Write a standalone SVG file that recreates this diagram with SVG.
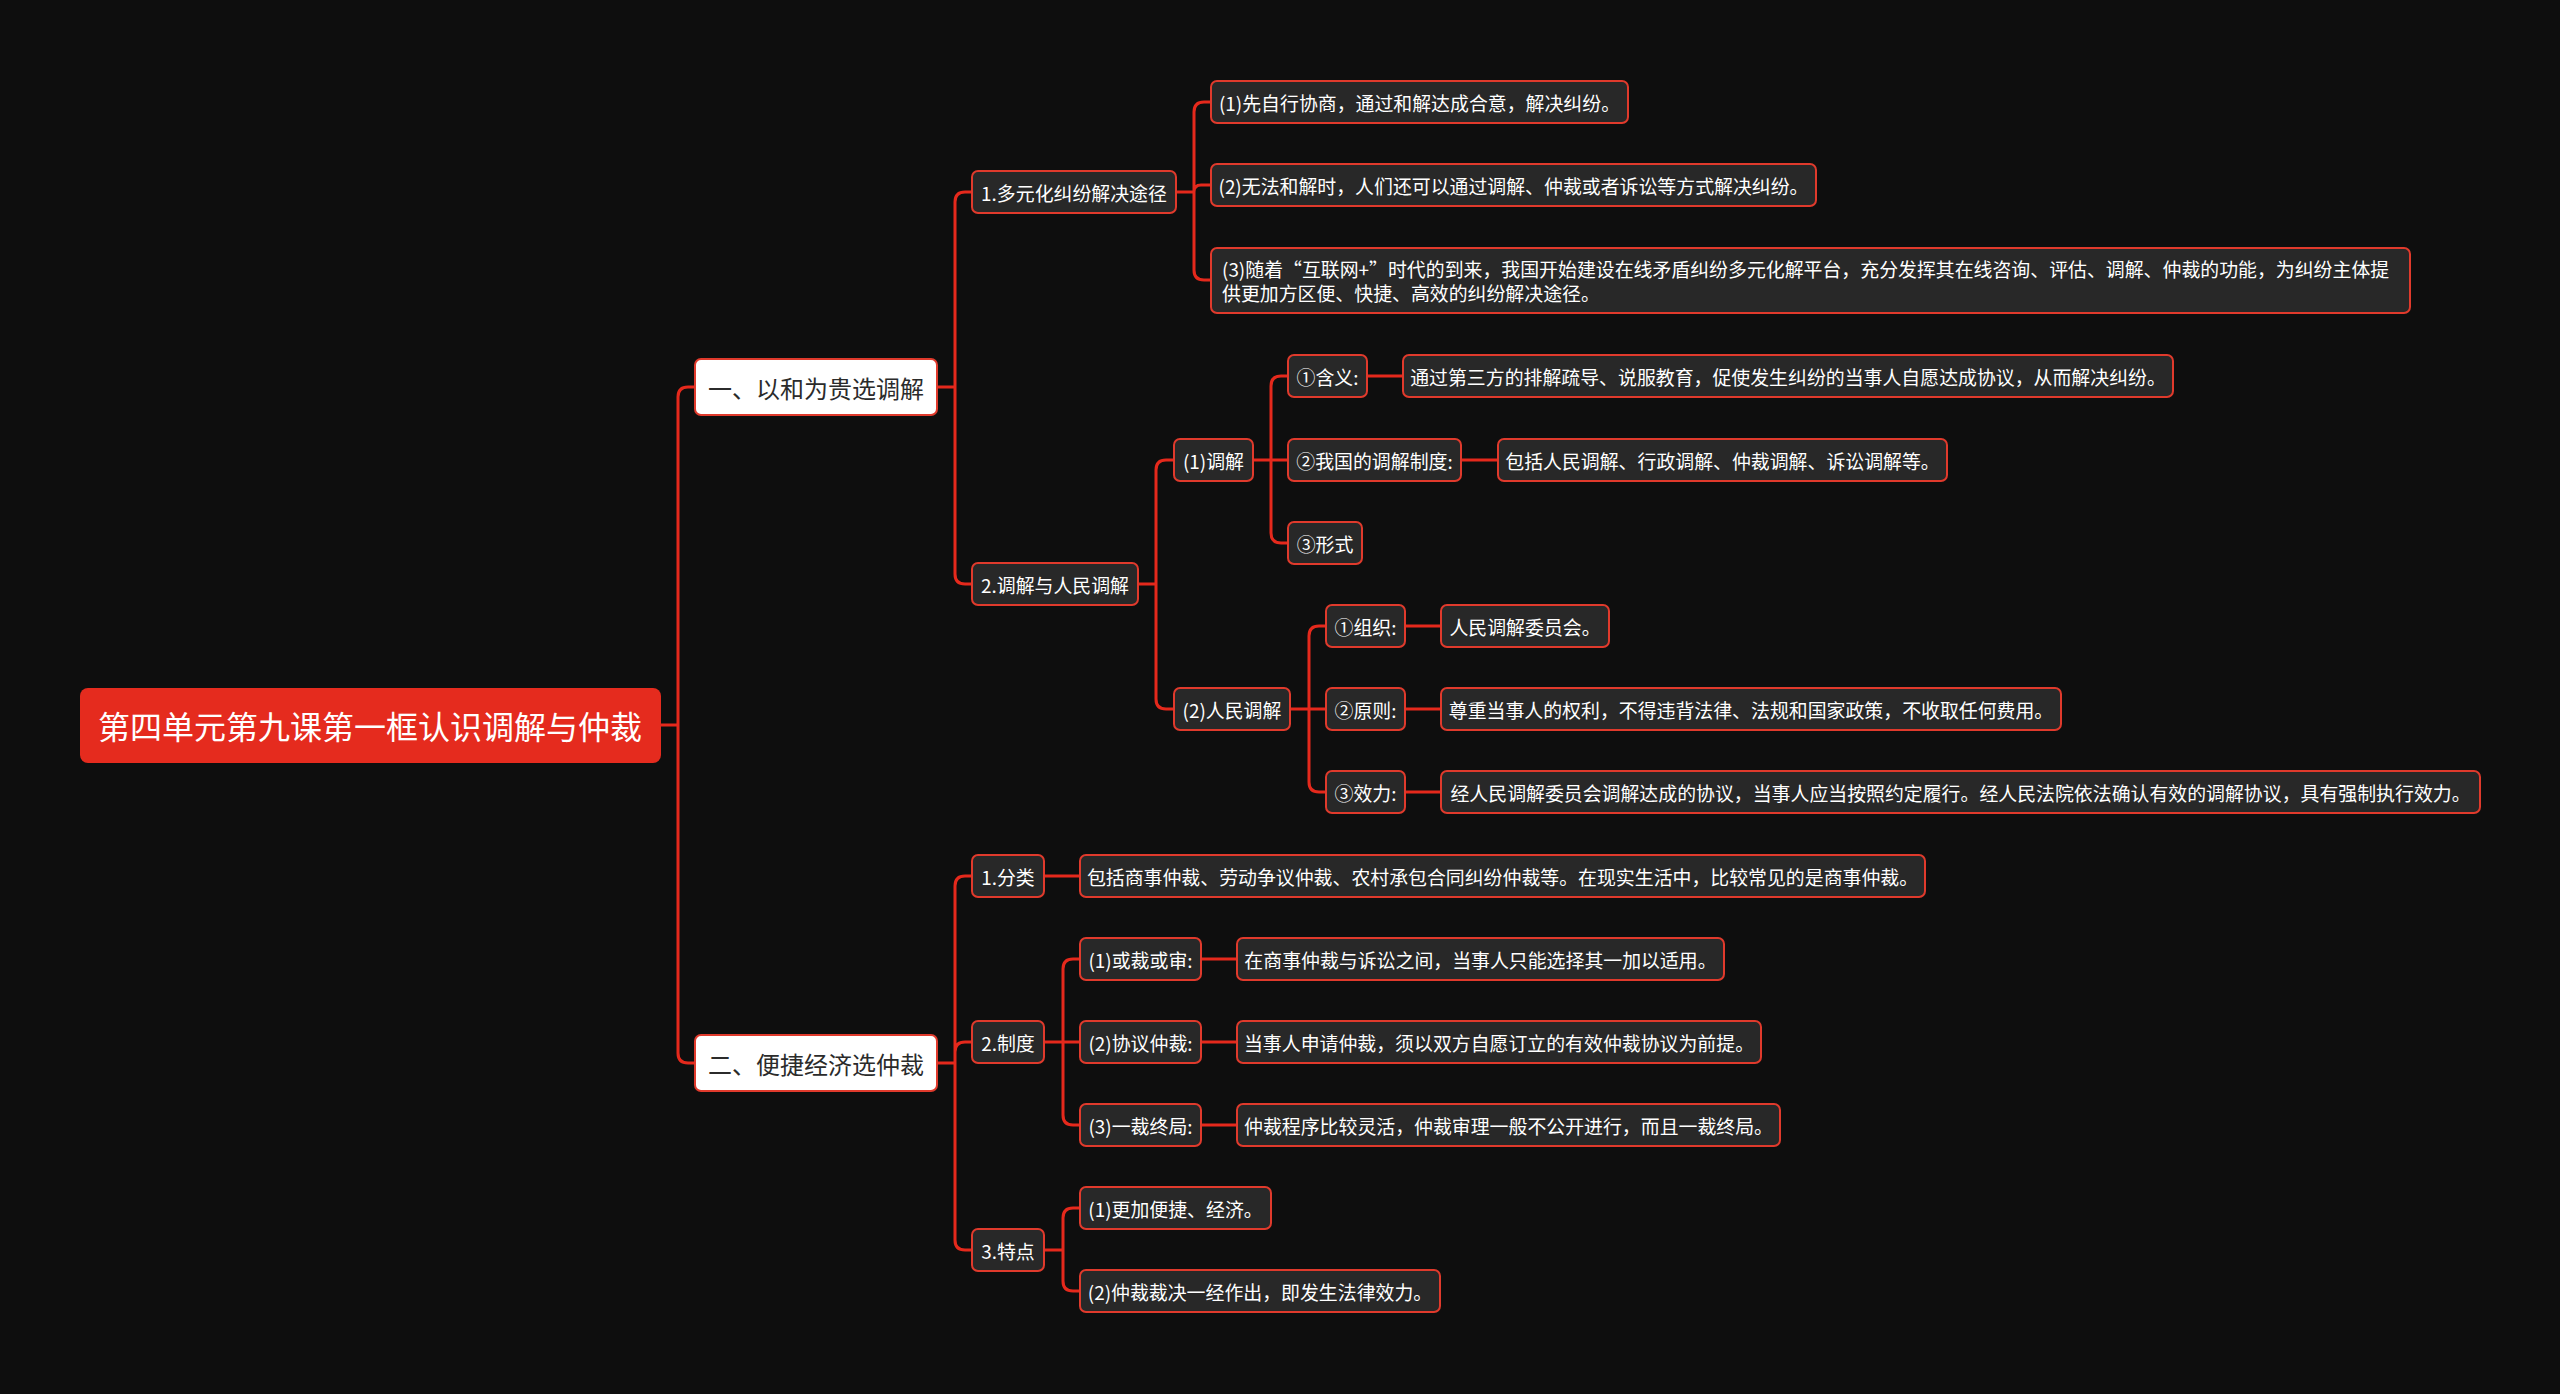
<svg xmlns="http://www.w3.org/2000/svg" width="2560" height="1394" viewBox="0 0 2560 1394">
<style>
text{font-family:"Noto Sans CJK SC","Noto Sans",sans-serif;dominant-baseline:central;text-anchor:middle}
.n rect{fill:#282828;stroke:#e03a2c;stroke-width:2}
.n text{fill:#ffffff;font-size:18.9px}
.l1 rect{fill:#ffffff;stroke:#e03a2c;stroke-width:2}
.l1 text{fill:#2b2b2b;font-size:24px}
.root rect{fill:#e52b1e}
.root text{fill:#ffffff;font-size:32px}
#connectors path{fill:none;stroke:#e5291c;stroke-width:3}
</style>
<rect width="2560" height="1394" fill="#0e0e0e"/>
<g id="connectors">
<path d="M661,725 H678 M678,725 V397 Q678,387 688,387 H695 M678,725 V1053 Q678,1063 688,1063 H695"/>
<path d="M937,387 H955 M955,387 V202 Q955,192 965,192 H972 M955,387 V574 Q955,584 965,584 H972"/>
<path d="M937,1063 H955 M955,1063 V886 Q955,876 965,876 H972 M955,1063 V1052 Q955,1042 965,1042 H972 M955,1063 V1240 Q955,1250 965,1250 H972"/>
<path d="M1176,192 H1194 M1194,192 V112 Q1194,102 1204,102 H1211 M1194,192 Q1194,185 1201,185 H1211 M1194,192 V270 Q1194,280 1204,280 H1211"/>
<path d="M1138,584 H1156 M1156,584 V470 Q1156,460 1166,460 H1174 M1156,584 V699 Q1156,709 1166,709 H1174"/>
<path d="M1253,460 H1288 M1271,460 V386 Q1271,376 1281,376 H1288 M1271,460 V533 Q1271,543 1281,543 H1288"/>
<path d="M1290,709 H1326 M1309,709 V636 Q1309,626 1319,626 H1326 M1309,709 V782 Q1309,792 1319,792 H1326"/>
<path d="M1044,1042 H1080 M1063,1042 V969 Q1063,959 1073,959 H1080 M1063,1042 V1115 Q1063,1125 1073,1125 H1080"/>
<path d="M1044,1250 H1063 M1063,1250 V1218 Q1063,1208 1073,1208 H1080 M1063,1250 V1281 Q1063,1291 1073,1291 H1080"/>
<path d="M1367,376 H1403 M1461,460 H1498 M1405,626 H1441 M1405,709 H1441 M1405,792 H1441 M1044,876 H1080 M1201,959 H1237 M1201,1042 H1237 M1201,1125 H1237"/>
</g>
<g id="root" class="root"><rect x="80" y="688" width="581" height="75" rx="8"/><text x="370" y="725">第四单元第九课第一框认识调解与仲裁</text></g>
<g id="n1" class="l1"><rect x="695" y="359" width="242" height="56" rx="6"/><text x="816" y="387">一、以和为贵选调解</text></g>
<g id="n2" class="l1"><rect x="695" y="1035" width="242" height="56" rx="6"/><text x="816" y="1063">二、便捷经济选仲裁</text></g>
<g id="a1" class="n"><rect x="972" y="171" width="204" height="42" rx="6"/><text x="1074" y="192">1.多元化纠纷解决途径</text></g>
<g id="a2" class="n"><rect x="972" y="563" width="166" height="42" rx="6"/><text x="1055" y="584">2.调解与人民调解</text></g>
<g id="a1a" class="n"><rect x="1211" y="81" width="417" height="42" rx="6"/><text x="1419.5" y="102">(1)先自行协商，通过和解达成合意，解决纠纷。</text></g>
<g id="a1b" class="n"><rect x="1211" y="164" width="605" height="42" rx="6"/><text x="1513.5" y="185">(2)无法和解时，人们还可以通过调解、仲裁或者诉讼等方式解决纠纷。</text></g>
<g id="a1c" class="n"><rect x="1211" y="248" width="1199" height="65" rx="6"/><text x="1222" y="268" style="text-anchor:start">(3)随着“互联网+”时代的到来，我国开始建设在线矛盾纠纷多元化解平台，充分发挥其在线咨询、评估、调解、仲裁的功能，为纠纷主体提</text><text x="1222" y="292" style="text-anchor:start">供更加方区便、快捷、高效的纠纷解决途径。</text></g>
<g id="a2a" class="n"><rect x="1174" y="439" width="79" height="42" rx="6"/><text x="1213.5" y="460">(1)调解</text></g>
<g id="a2b" class="n"><rect x="1174" y="688" width="116" height="42" rx="6"/><text x="1232" y="709">(2)人民调解</text></g>
<g id="a2a1" class="n"><rect x="1288" y="355" width="79" height="42" rx="6"/><text x="1327.5" y="376">①含义:</text></g>
<g id="a2a1t" class="n"><rect x="1403" y="355" width="770" height="42" rx="6"/><text x="1788" y="376">通过第三方的排解疏导、说服教育，促使发生纠纷的当事人自愿达成协议，从而解决纠纷。</text></g>
<g id="a2a2" class="n"><rect x="1288" y="439" width="173" height="42" rx="6"/><text x="1374.5" y="460">②我国的调解制度:</text></g>
<g id="a2a2t" class="n"><rect x="1498" y="439" width="449" height="42" rx="6"/><text x="1722.5" y="460">包括人民调解、行政调解、仲裁调解、诉讼调解等。</text></g>
<g id="a2a3" class="n"><rect x="1288" y="522" width="74" height="42" rx="6"/><text x="1325" y="543">③形式</text></g>
<g id="a2b1" class="n"><rect x="1326" y="605" width="79" height="42" rx="6"/><text x="1365.5" y="626">①组织:</text></g>
<g id="a2b1t" class="n"><rect x="1441" y="605" width="168" height="42" rx="6"/><text x="1525" y="626">人民调解委员会。</text></g>
<g id="a2b2" class="n"><rect x="1326" y="688" width="79" height="42" rx="6"/><text x="1365.5" y="709">②原则:</text></g>
<g id="a2b2t" class="n"><rect x="1441" y="688" width="620" height="42" rx="6"/><text x="1751" y="709">尊重当事人的权利，不得违背法律、法规和国家政策，不收取任何费用。</text></g>
<g id="a2b3" class="n"><rect x="1326" y="771" width="79" height="42" rx="6"/><text x="1365.5" y="792">③效力:</text></g>
<g id="a2b3t" class="n"><rect x="1441" y="771" width="1039" height="42" rx="6"/><text x="1960.5" y="792">经人民调解委员会调解达成的协议，当事人应当按照约定履行。经人民法院依法确认有效的调解协议，具有强制执行效力。</text></g>
<g id="b1" class="n"><rect x="972" y="855" width="72" height="42" rx="6"/><text x="1008" y="876">1.分类</text></g>
<g id="b1t" class="n"><rect x="1080" y="855" width="845" height="42" rx="6"/><text x="1502.5" y="876">包括商事仲裁、劳动争议仲裁、农村承包合同纠纷仲裁等。在现实生活中，比较常见的是商事仲裁。</text></g>
<g id="b2" class="n"><rect x="972" y="1021" width="72" height="42" rx="6"/><text x="1008" y="1042">2.制度</text></g>
<g id="b21" class="n"><rect x="1080" y="938" width="121" height="42" rx="6"/><text x="1140.5" y="959">(1)或裁或审:</text></g>
<g id="b21t" class="n"><rect x="1237" y="938" width="487" height="42" rx="6"/><text x="1480.5" y="959">在商事仲裁与诉讼之间，当事人只能选择其一加以适用。</text></g>
<g id="b22" class="n"><rect x="1080" y="1021" width="121" height="42" rx="6"/><text x="1140.5" y="1042">(2)协议仲裁:</text></g>
<g id="b22t" class="n"><rect x="1237" y="1021" width="524" height="42" rx="6"/><text x="1499" y="1042">当事人申请仲裁，须以双方自愿订立的有效仲裁协议为前提。</text></g>
<g id="b23" class="n"><rect x="1080" y="1104" width="121" height="42" rx="6"/><text x="1140.5" y="1125">(3)一裁终局:</text></g>
<g id="b23t" class="n"><rect x="1237" y="1104" width="543" height="42" rx="6"/><text x="1508.5" y="1125">仲裁程序比较灵活，仲裁审理一般不公开进行，而且一裁终局。</text></g>
<g id="b3" class="n"><rect x="972" y="1229" width="72" height="42" rx="6"/><text x="1008" y="1250">3.特点</text></g>
<g id="b31" class="n"><rect x="1080" y="1187" width="191" height="42" rx="6"/><text x="1175.5" y="1208">(1)更加便捷、经济。</text></g>
<g id="b32" class="n"><rect x="1080" y="1270" width="360" height="42" rx="6"/><text x="1260" y="1291">(2)仲裁裁决一经作出，即发生法律效力。</text></g>
</svg>
